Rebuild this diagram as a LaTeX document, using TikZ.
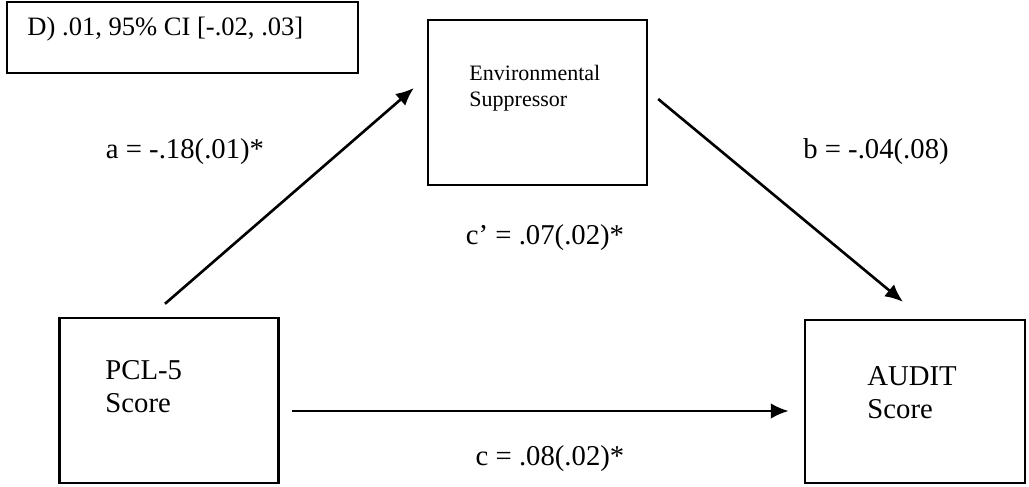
\documentclass[tikz,border=0pt]{standalone}
\usepackage{fontspec}
\setmainfont{Liberation Serif}
\usetikzlibrary{arrows.meta,calc}
\begin{document}
\begin{tikzpicture}[x=0.418pt,y=-0.418pt,
        box/.style={draw,line width=1pt,minimum width=91.5pt,minimum height=69pt,inner sep=0pt},
        txt/.style={inner sep=0pt,anchor=west,align=left,font=\fontsize{12}{13.8}\selectfont},
        coef/.style={inner sep=0pt,anchor=base,font=\fontsize{12}{13.8}\selectfont},
        arr/.style={draw,line width=1.1pt,-{Latex[length=7.5pt,width=6.5pt]}}]
        \useasboundingbox (0,0) rectangle (1029,486);

        \node[box,line width=0.6pt,minimum width=146.7pt,minimum height=29.7pt] (dbox) at (182.5,37.5) {};
        \node[box] (env) at (537.5,102.5) {};
        \node[box] (pcl) at (169,400.5) {};
        \node[box,minimum width=92pt,minimum height=68.1pt] (audit) at (915,401.5) {};

        \node[inner sep=0pt,anchor=base west,font=\fontsize{11.1}{13}\selectfont] (dtext) at (27,35) {D) .01, 95\% CI [-.02, .03]};
        \node[txt,font=\fontsize{9.2}{10.9}\selectfont] (envtext) at (469,88) {Environmental\\Suppressor};
        \node[txt] (pcltext) at (105,387) {PCL-5\\Score};
        \node[txt] (audittext) at (867,393) {AUDIT\\Score};

        \path[arr] ($(pcl.north)+(-4,-13)$) -- ($(env.west)+(-13,-14.5)$);
        \path[arr] ($(env.east)+(10,-3.5)$) -- ($(audit.north)+(-12,-17)$);
        \path[arr] ($(pcl.east)+(12,10.5)$) -- ($(audit.west)+(-15,9.5)$);

        \node[coef] (alab) at (185,158) {a = -.18(.01)*};
        \node[coef] (blab) at (876,158) {b = -.04(.08)};
        \node[coef] (cplab) at (545,244) {c' = .07(.02)*};
        \node[coef] (clab) at (550,465) {c = .08(.02)*};
    \end{tikzpicture}
\end{document}
